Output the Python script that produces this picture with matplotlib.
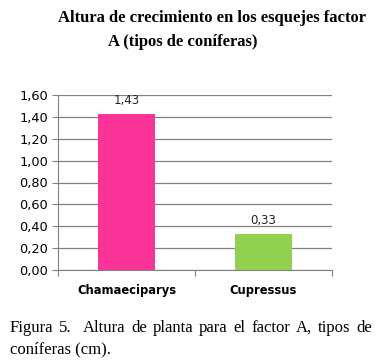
import matplotlib
matplotlib.use('Agg')
import matplotlib.pyplot as plt

categories = ['Chamaeciparys', 'Cupressus']
values = [1.43, 0.33]
value_labels = ['1,43', '0,33']
yticks = [0.0, 0.2, 0.4, 0.6, 0.8, 1.0, 1.2, 1.4, 1.6]
ytick_labels = ['0,00', '0,20', '0,40', '0,60', '0,80', '1,00', '1,20', '1,40', '1,60']
colors = ['#FA3399', '#92D050']
caption1 = 'Figura 5. Altura de planta para el factor A, tipos de'
caption2 = 'coníferas (cm).'

W, H = 388, 361
fig = plt.figure(figsize=(W / 100, H / 100), dpi=100)
ax = fig.add_axes([58 / W, 1 - 270 / H, 274 / W, 175 / H])

x = range(len(categories))
ax.bar(x, values, width=0.41, color=colors, zorder=3)
for i, v in enumerate(values):
    ax.text(i, v + 0.06, value_labels[i], ha='center', va='bottom',
            fontsize=8.5, family='DejaVu Sans', color='#222222')

ax.set_xlim(-0.5, 1.5)
ax.set_ylim(0, 1.6)
ax.set_yticks(yticks)
ax.set_yticklabels(ytick_labels, fontsize=9.3, family='DejaVu Sans')
ax.yaxis.grid(True, color='#808080', linewidth=0.9, zorder=0)
ax.set_axisbelow(True)

ax.set_xticks([-0.5, 0.5, 1.5])
ax.set_xticklabels([])
ax.tick_params(axis='x', length=4, color='#808080', direction='out')
ax.tick_params(axis='y', length=4, color='#808080', direction='out', pad=3)
for i, c in enumerate(categories):
    ax.text(i, -0.13, c, ha='center', va='top', fontsize=8.3,
            fontweight='bold', family='DejaVu Sans')

for s in ['top', 'right']:
    ax.spines[s].set_visible(False)
ax.spines['left'].set_color('#808080')
ax.spines['bottom'].set_color('#808080')

fig.text(58 / W, 1 - 18 / H, 'Altura de crecimiento en los esquejes factor',
         family='Liberation Serif', fontweight='bold', fontsize=12,
         ha='left', va='center')
fig.text(108 / W, 1 - 42 / H, 'A (tipos de coníferas)',
         family='Liberation Serif', fontweight='bold', fontsize=12,
         ha='left', va='center')

# justified first caption line (extra space after "5.")
words = caption1.split(' ')
renderer = fig.canvas.get_renderer()
items = []
for w in words:
    t = fig.text(0, 1 - 328 / H, w, family='Liberation Serif',
                 fontsize=12, ha='left', va='center')
    items.append(t)
widths = [t.get_window_extent(renderer).width for t in items]
left, right, extra = 10, 372, 5
gap = (right - left - extra - sum(widths)) / (len(items) - 1)
xpos = left
for k, (t, wd) in enumerate(zip(items, widths)):
    t.set_x(xpos / W)
    xpos += wd + gap + (extra if k == 1 else 0)
fig.text(10 / W, 1 - 349 / H, caption2,
         family='Liberation Serif', fontsize=12, ha='left', va='center')

fig.savefig('out.png', dpi=100)
